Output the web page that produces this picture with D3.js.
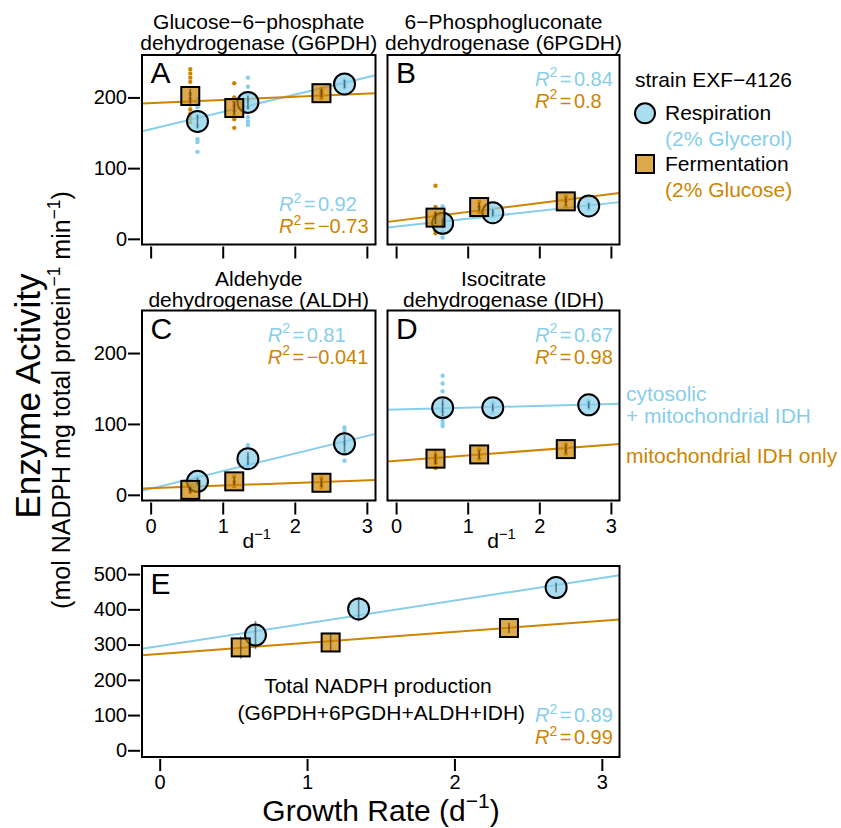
<!DOCTYPE html>
<html><head><meta charset="utf-8">
<script src="https://cdn.jsdelivr.net/npm/d3@7"></script>
<style>body{margin:0;background:#fff}svg{display:block}text{font-family:"Liberation Sans",Arial,Helvetica,sans-serif}</style>
</head><body>
<script>
// ---------------- data ----------------
const growthResp = [0.65, 1.35, 2.69];
const growthFerm = [0.55, 1.16, 2.37];
const xTicks = [0, 1, 2, 3];
const yTicksTop = [0, 100, 200];
const yTicksTotal = [0, 100, 200, 300, 400, 500];

const panelIds = ["A", "B", "C", "D", "E"];
const panelTitles = [
  ["Glucose\u22126\u2212phosphate", "dehydrogenase (G6PDH)"],
  ["6\u2212Phosphogluconate", "dehydrogenase (6PGDH)"],
  ["Aldehyde", "dehydrogenase (ALDH)"],
  ["Isocitrate", "dehydrogenase (IDH)"],
  []
];
const meanResp = [[166, 193, 219], [22, 37, 46.5], [19, 51, 72], [123, 123, 127], [327, 401, 462]];
const meanFerm = [[202, 185, 206], [30, 45, 53], [7, 19, 17], [51, 57, 64.5], [292, 306, 347]];
const errResp = [[10, 9, 6], [7, 5, 4], [5, 9, 12], [12, 5, 5], [40, 35, 14]];
const errFerm = [[10, 9, 6], [9, 6, 6], [4, 6, 6], [8, 6, 6], [32, 28, 14]];
// fitted regression lines: [intercept, slope]
const fitResp = [[155, 24.5], [17.3, 11.1], [8.6, 24.8], [120.3, 2.6], [295.6, 64.5]];
const fitFerm = [[192, 4.5], [25.5, 12.6], [9.4, 3.7], [48, 7.6], [273.7, 31.2]];
const r2Resp = ["0.92", "0.84", "0.81", "0.67", "0.89"];
const r2Ferm = ["\u22120.73", "0.8", "\u22120.041", "0.98", "0.99"];
// replicate measurements (small dots)
const repResp = [
  [[198, 193, 186, 172, 160, 141, 137, 123], [228, 215, 205, 195, 185, 172, 166, 161], [224, 220, 218, 214]],
  [[46, 30, 20, 10, 2], [42, 37, 32], [50, 46, 42]],
  [[25, 18, 12], [70, 52, 45, 38], [95, 90, 72, 58, 48]],
  [[168, 157, 146, 128, 118, 110, 104, 100, 97], [130, 123, 116], [132, 127, 122]],
  [[], [], []]
];
const repFerm = [
  [[240, 234, 228, 222, 205, 198, 190, 183, 177, 171, 165], [220, 200, 194, 188, 181, 174, 169, 157], [212, 208, 205, 202, 199]],
  [[75, 45, 35, 28, 20, 12, 8], [52, 45, 38], [60, 53, 46]],
  [[12, 8, 4], [26, 18, 12], [24, 17, 11]],
  [[62, 55, 50, 45, 38], [64, 57, 51], [71, 64, 58]],
  [[], [], []]
];

// ---------------- style / layout ----------------
const W = 841, H = 828;
const BLUE = "#87CEEB", ORANGE = "#CD8500";
const FONT = 21, TICKFONT = 20, R2FONT = 20;
const xDomain = [-0.12, 3.12];
const layout = [
  {x0: 142, x1: 375.5, y0: 55, y1: 244.5, yd: [-8, 260], yt: yTicksTop, showY: true, showXLab: false, r2x: 279, r2y: 211, titleY: 29},
  {x0: 387.5, x1: 619.5, y0: 55, y1: 244.5, yd: [-8, 260], yt: yTicksTop, showY: false, showXLab: false, r2x: 535, r2y: 85.7, titleY: 29},
  {x0: 142, x1: 375.5, y0: 310.5, y1: 500.5, yd: [-8, 260], yt: yTicksTop, showY: true, showXLab: true, r2x: 267.7, r2y: 341.7, titleY: 285.5},
  {x0: 387.5, x1: 619.5, y0: 310.5, y1: 500.5, yd: [-8, 260], yt: yTicksTop, showY: false, showXLab: true, r2x: 535, r2y: 341.7, titleY: 285.5},
  {x0: 142, x1: 619.5, y0: 566, y1: 757, yd: [-19, 523], yt: yTicksTotal, showY: true, showXLab: true, r2x: 535, r2y: 722.3, titleY: 0}
];

const svg = d3.select("body").append("svg").attr("width", W).attr("height", H);
const defs = svg.append("defs");

function rich(g, x, y, parts, size, anchor, fill, rotate) {
  const t = g.append("text").attr("x", x).attr("y", y)
    .attr("font-size", size).attr("text-anchor", anchor || "start").attr("fill", fill || "#000");
  if (rotate) t.attr("transform", `rotate(${rotate},${x},${y})`);
  let shift = 0;
  parts.forEach(p => {
    const ts = t.append("tspan").text(p.t);
    let dy;
    if (p.sup) { ts.attr("font-size", size * 0.7); dy = -size * 0.42 - shift; shift = -size * 0.42; }
    else { dy = -shift; shift = 0; }
    if (dy) ts.attr("dy", dy);
    if (p.dx) ts.attr("dx", p.dx);
    if (p.it) ts.attr("font-style", "italic");
  });
  return t;
}

layout.forEach((L, i) => {
  const g = svg.append("g");
  const x = d3.scaleLinear().domain(xDomain).range([L.x0, L.x1]);
  const y = d3.scaleLinear().domain(L.yd).range([L.y1, L.y0]);
  const clipId = "clip" + i;
  defs.append("clipPath").attr("id", clipId).append("rect")
    .attr("x", L.x0).attr("y", L.y0).attr("width", L.x1 - L.x0).attr("height", L.y1 - L.y0);

  // x axis ticks (offset below box)
  const xa = g.append("g").attr("transform", `translate(0,${L.y1 + 2})`)
    .call(d3.axisBottom(x).tickValues(xTicks).tickSize(12).tickPadding(4)
      .tickFormat(L.showXLab ? d3.format("d") : () => ""));
  xa.select(".domain").remove();
  xa.selectAll("line").attr("stroke", "#000").attr("stroke-width", 2);
  xa.selectAll("text").attr("font-size", TICKFONT).attr("fill", "#000")
    .attr("font-family", '"Liberation Sans",Arial,sans-serif');
  if (L.showY) {
    const ya = g.append("g").attr("transform", `translate(${L.x0 - 2},0)`)
      .call(d3.axisLeft(y).tickValues(L.yt).tickSize(12).tickPadding(1).tickFormat(d3.format("d")));
    ya.select(".domain").remove();
    ya.selectAll("line").attr("stroke", "#000").attr("stroke-width", 2);
    ya.selectAll("text").attr("font-size", TICKFONT).attr("fill", "#000")
      .attr("font-family", '"Liberation Sans",Arial,sans-serif');
  }

  // regression lines
  const lg = g.append("g").attr("clip-path", `url(#${clipId})`);
  [[fitResp[i], BLUE], [fitFerm[i], ORANGE]].forEach(([f, c]) => {
    lg.append("line")
      .attr("x1", x(xDomain[0])).attr("x2", x(xDomain[1]))
      .attr("y1", y(f[0] + f[1] * xDomain[0])).attr("y2", y(f[0] + f[1] * xDomain[1]))
      .attr("stroke", c).attr("stroke-width", 2);
  });

  // replicate dots
  [[repResp[i], growthResp, BLUE], [repFerm[i], growthFerm, ORANGE]].forEach(([reps, gx, c]) => {
    reps.forEach((vals, j) => {
      lg.selectAll(null).data(vals).enter().append("circle")
        .attr("cx", x(gx[j])).attr("cy", d => y(d)).attr("r", 2.2).attr("fill", c);
    });
  });

  // mean markers
  lg.selectAll(null).data(meanResp[i]).enter().append("circle")
    .attr("cx", (d, j) => x(growthResp[j])).attr("cy", d => y(d)).attr("r", 10.5)
    .attr("fill", BLUE).attr("fill-opacity", 0.7).attr("stroke", "#000").attr("stroke-width", 2);
  lg.selectAll(null).data(meanFerm[i]).enter().append("rect")
    .attr("x", (d, j) => x(growthFerm[j]) - 9).attr("y", d => y(d) - 9).attr("width", 18).attr("height", 18)
    .attr("fill", ORANGE).attr("fill-opacity", 0.7).attr("stroke", "#000").attr("stroke-width", 2);

  // error bars
  [[meanResp[i], errResp[i], growthResp], [meanFerm[i], errFerm[i], growthFerm]].forEach(([m, e, gx]) => {
    lg.selectAll(null).data(m).enter().append("line")
      .attr("x1", (d, j) => x(gx[j])).attr("x2", (d, j) => x(gx[j]))
      .attr("y1", (d, j) => y(d - e[j])).attr("y2", (d, j) => y(d + e[j]))
      .attr("stroke", "#000").attr("stroke-opacity", 0.45).attr("stroke-width", 1.6);
  });

  // box
  g.append("rect").attr("x", L.x0).attr("y", L.y0).attr("width", L.x1 - L.x0).attr("height", L.y1 - L.y0)
    .attr("fill", "none").attr("stroke", "#000").attr("stroke-width", 2);

  // panel letter
  g.append("text").attr("x", L.x0 + 8.5).attr("y", L.y0 + 28).attr("font-size", 30).text(panelIds[i]);

  // titles
  panelTitles[i].forEach((t, k) => {
    g.append("text").attr("x", (L.x0 + L.x1) / 2).attr("y", L.titleY + k * 21)
      .attr("text-anchor", "middle").attr("font-size", FONT).text(t);
  });

  // R^2 labels
  [[r2Resp[i], BLUE], [r2Ferm[i], ORANGE]].forEach(([v, c], k) => {
    rich(g, L.r2x, L.r2y + k * 22, [{t: "R", it: true}, {t: "2", sup: true}, {t: "=", dx: 2.5}, {t: v, dx: 2.5}], R2FONT, "start", c);
  });

  // d^-1 under C and D
  if (i === 2 || i === 3) {
    rich(g, (L.x0 + L.x1) / 2 - 2, 548, [{t: "d"}, {t: "\u22121", sup: true}], FONT, "middle", "#000");
  }
});

// panel E annotation
svg.append("text").attr("x", 378).attr("y", 693.3).attr("text-anchor", "middle").attr("font-size", FONT)
  .text("Total NADPH production");
svg.append("text").attr("x", 381.3).attr("y", 720).attr("text-anchor", "middle").attr("font-size", FONT)
  .text("(G6PDH+6PGDH+ALDH+IDH)");

// IDH annotations
svg.append("text").attr("x", 626).attr("y", 400.7).attr("font-size", FONT).attr("fill", BLUE).text("cytosolic");
svg.append("text").attr("x", 626).attr("y", 423.3).attr("font-size", FONT).attr("fill", BLUE).text("+ mitochondrial IDH");
svg.append("text").attr("x", 626).attr("y", 462.7).attr("font-size", FONT).attr("fill", ORANGE).text("mitochondrial IDH only");

// legend
const leg = svg.append("g");
leg.append("text").attr("x", 635).attr("y", 86.7).attr("font-size", FONT).text("strain EXF\u22124126");
leg.append("circle").attr("cx", 645).attr("cy", 113.3).attr("r", 10)
  .attr("fill", BLUE).attr("fill-opacity", 0.7).attr("stroke", "#000").attr("stroke-width", 2);
leg.append("text").attr("x", 665).attr("y", 120).attr("font-size", FONT).text("Respiration");
leg.append("text").attr("x", 665).attr("y", 146).attr("font-size", FONT).attr("fill", BLUE).text("(2% Glycerol)");
leg.append("rect").attr("x", 636).attr("y", 155).attr("width", 18).attr("height", 18)
  .attr("fill", ORANGE).attr("fill-opacity", 0.7).attr("stroke", "#000").attr("stroke-width", 2);
leg.append("text").attr("x", 665).attr("y", 171).attr("font-size", FONT).text("Fermentation");
leg.append("text").attr("x", 665).attr("y", 196.7).attr("font-size", FONT).attr("fill", ORANGE).text("(2% Glucose)");

// axis titles
rich(svg, 40, 396, [{t: "Enzyme Activity"}], 35, "middle", "#000", -90);
rich(svg, 70, 400, [{t: "(mol NADPH mg total protein"}, {t: "\u22121", sup: true}, {t: " min"}, {t: "\u22121", sup: true}, {t: ")"}], 25, "middle", "#000", -90);
rich(svg, 381, 821, [{t: "Growth Rate (d"}, {t: "\u22121", sup: true}, {t: ")"}], 30, "middle", "#000");
</script>
</body></html>
